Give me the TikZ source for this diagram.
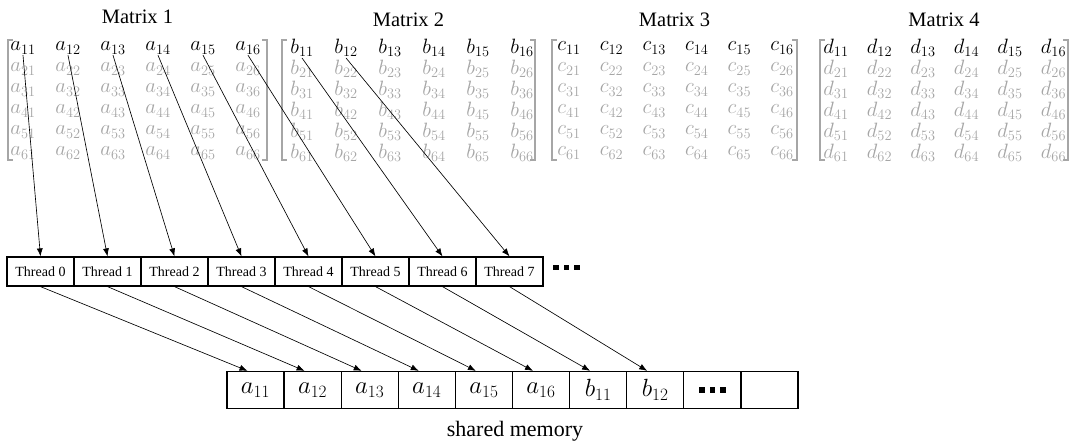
\documentclass[tikz,border=0pt]{standalone}
\usepackage{amsmath}
\usepackage{fontspec}
\setmainfont{Liberation Serif}
\usepackage{tikz}
\usetikzlibrary{calc}
\usetikzlibrary{arrows.meta}

\definecolor{fadegray}{HTML}{A6A6A6}
\newcommand{\sqdots}{\rule{5.5pt}{5.5pt}\hspace{5pt}\rule{5.5pt}{5.5pt}\hspace{5pt}\rule{5.5pt}{5.5pt}}

\begin{document}
\begin{tikzpicture}[x=1pt, y=-1pt, >={Latex[length=8pt,width=6pt]},
  entry/.style={inner sep=1pt, font=\fontsize{22}{22}\selectfont},
  faded/.style={text=fadegray},
  bracket/.style={draw=fadegray, line width=1.6pt},
  title/.style={anchor=base, font=\fontsize{20.5}{22}\selectfont},
  thread/.style={draw, line width=1.2pt, minimum width=67pt, minimum height=29pt, inner sep=0pt, node distance=67pt, font=\fontsize{14}{14}\selectfont},
  cell/.style={draw, line width=1.3pt, minimum width=57.1pt, minimum height=37pt, inner sep=0pt, node distance=57.1pt, font=\fontsize{24}{24}\selectfont},
  link/.style={line width=0.65pt}]
\useasboundingbox (0,0) rectangle (1083,447);

% the four matrices, first row black
\foreach \m/\x/\dx in {a/23/45, b/302/44, c/569/42.6, d/836/43.5}{
  \foreach \c in {1,...,6}
    \node[entry, name=\m_1\c] at ({\x+(\c-1)*\dx},48) {$\m_{1\c}$};
  \foreach \r in {2,...,6}
    \foreach \c in {1,...,6}
      \node[entry, faded, name=\m_\r\c] at ({\x+(\c-1)*\dx},{48+(\r-1)*21}) {$\m_{\r\c}$};
}
\foreach \l/\rr in {8/267, 282/535, 552/797, 820/1068}{
  \draw[bracket] (\l+5,40) -- (\l,40) -- (\l,160) -- (\l+5,160);
  \draw[bracket] (\rr-5,40) -- (\rr,40) -- (\rr,160) -- (\rr-5,160);
}
\node[title, name=title_1] at (137.5,23) {Matrix 1};
\node[title, name=title_2] at (408.5,26.5) {Matrix 2};
\node[title, name=title_3] at (674.5,26.5) {Matrix 3};
\node[title, name=title_4] at (944,26.5) {Matrix 4};

% threads
\node[thread, name=thread_0] at (40.5,271.5) {Thread 0};
\node[thread, name=thread_1, right of=thread_0] {Thread 1};
\node[thread, name=thread_2, right of=thread_1] {Thread 2};
\node[thread, name=thread_3, right of=thread_2] {Thread 3};
\node[thread, name=thread_4, right of=thread_3] {Thread 4};
\node[thread, name=thread_5, right of=thread_4] {Thread 5};
\node[thread, name=thread_6, right of=thread_5] {Thread 6};
\node[thread, name=thread_7, right of=thread_6] {Thread 7};
\node[name=thread_more, right of=thread_7, node distance=67pt, xshift=-10pt, yshift=4pt, inner sep=0pt] {\sqdots};

% shared memory
\node[cell, name=mem_1] at (255.5,390) {$a_{11}$};
\node[cell, name=mem_2, right of=mem_1] {$a_{12}$};
\node[cell, name=mem_3, right of=mem_2] {$a_{13}$};
\node[cell, name=mem_4, right of=mem_3] {$a_{14}$};
\node[cell, name=mem_5, right of=mem_4] {$a_{15}$};
\node[cell, name=mem_6, right of=mem_5] {$a_{16}$};
\node[cell, name=mem_7, right of=mem_6] {$b_{11}$};
\node[cell, name=mem_8, right of=mem_7] {$b_{12}$};
\node[cell, name=mem_9, right of=mem_8] {\sqdots};
\node[cell, name=mem_10, right of=mem_9] {};
\node[name=mem_label, font=\fontsize{22}{22}\selectfont] at (515,431) {shared memory};

\draw[link](a_11.south) edge[->](thread_0.north);
\draw[link](a_12.south) edge[->](thread_1.north);
\draw[link](a_13.south) edge[->](thread_2.north);
\draw[link](a_14.south) edge[->](thread_3.north);
\draw[link](a_15.south) edge[->](thread_4.north);
\draw[link](a_16.south) edge[->](thread_5.north);
\draw[link](b_11.south) edge[->](thread_6.north);
\draw[link](b_12.south) edge[->](thread_7.north);

\draw[link](thread_0.south) edge[->]([xshift=-8pt]mem_1.north);
\draw[link](thread_1.south) edge[->]([xshift=-8pt]mem_2.north);
\draw[link](thread_2.south) edge[->]([xshift=-8pt]mem_3.north);
\draw[link](thread_3.south) edge[->]([xshift=-8pt]mem_4.north);
\draw[link](thread_4.south) edge[->]([xshift=-8pt]mem_5.north);
\draw[link](thread_5.south) edge[->]([xshift=-8pt]mem_6.north);
\draw[link](thread_6.south) edge[->]([xshift=-8pt]mem_7.north);
\draw[link](thread_7.south) edge[->]([xshift=-8pt]mem_8.north);

\end{tikzpicture}
\end{document}
